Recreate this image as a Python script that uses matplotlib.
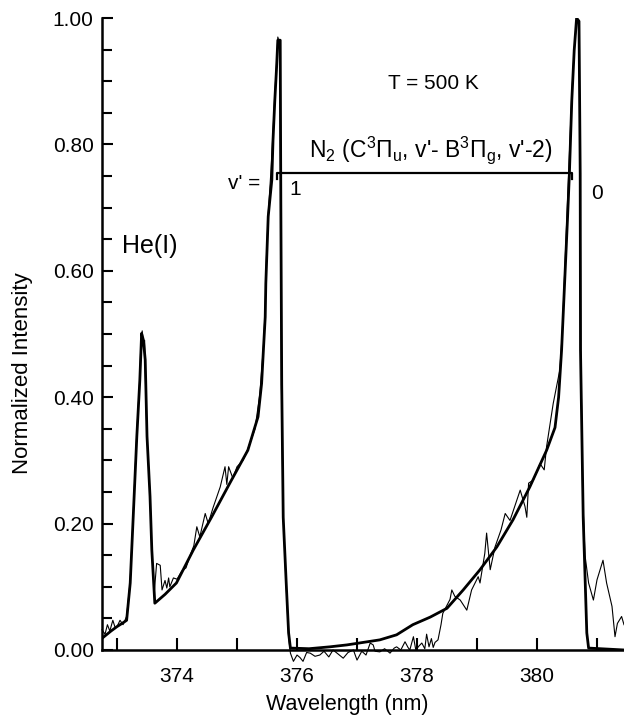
import numpy as np
import matplotlib
matplotlib.use('Agg')
import matplotlib.pyplot as plt
from matplotlib.ticker import MultipleLocator, FormatStrFormatter

plt.rcParams['font.family'] = ['Liberation Sans', 'DejaVu Sans']
plt.rcParams['mathtext.fontset'] = 'custom'
plt.rcParams['mathtext.rm'] = 'Liberation Sans'
plt.rcParams['mathtext.it'] = 'Liberation Sans:italic'

# simulated spectrum (thick line)
wl_fit = [372.77, 372.90, 373.00, 373.10, 373.16, 373.22, 373.27, 373.33, 373.38, 373.41,
          373.44, 373.47, 373.50, 373.55, 373.58, 373.63, 373.80, 373.99, 374.27, 374.58,
          374.88, 375.18, 375.35, 375.41, 375.44, 375.47, 375.48, 375.50, 375.52, 375.58,
          375.60, 375.63, 375.66, 375.68, 375.72, 375.73, 375.745, 375.77, 375.82, 375.86,
          375.89, 376.20, 376.55, 376.83, 377.38, 377.66, 377.93, 378.22, 378.50, 378.77,
          379.05, 379.33, 379.60, 379.88, 380.16, 380.30, 380.36, 380.41, 380.51, 380.54,
          380.58, 380.62, 380.66, 380.70, 380.72, 380.725, 380.77, 380.83, 380.86, 381.45]
int_fit = [0.020, 0.030, 0.037, 0.043, 0.047, 0.106, 0.211, 0.338, 0.427, 0.501,
           0.490, 0.459, 0.338, 0.243, 0.158, 0.074, 0.088, 0.106, 0.158, 0.211,
           0.264, 0.316, 0.369, 0.422, 0.475, 0.527, 0.580, 0.633, 0.686, 0.744,
           0.807, 0.870, 0.923, 0.965, 0.965, 0.712, 0.420, 0.210, 0.106, 0.027,
           0.003, 0.002, 0.005, 0.008, 0.016, 0.024, 0.040, 0.052, 0.066, 0.095,
           0.127, 0.163, 0.206, 0.258, 0.316, 0.352, 0.400, 0.475, 0.686, 0.754,
           0.870, 0.949, 1.000, 0.995, 0.754, 0.475, 0.210, 0.027, 0.003, 0.000]

# measured spectrum (thin line)
wl_exp = [372.75, 372.80, 372.84, 372.88, 372.93, 372.97, 373.00, 373.05, 373.10, 373.16,
          373.22, 373.27, 373.33, 373.38, 373.40, 373.42, 373.44, 373.46, 373.48, 373.50,
          373.55, 373.58, 373.62, 373.66, 373.72, 373.75, 373.80, 373.83, 373.86, 373.88,
          373.94, 374.00, 374.08, 374.15, 374.22, 374.28, 374.33, 374.38, 374.47, 374.52,
          374.60, 374.72, 374.80, 374.83, 374.86, 374.93, 375.00, 375.10, 375.18, 375.30,
          375.38, 375.44, 375.47, 375.49, 375.52, 375.56, 375.60, 375.63, 375.66, 375.68,
          375.71, 375.73, 375.74, 375.77, 375.82, 375.86, 375.89, 375.94, 376.00, 376.05,
          376.10, 376.16, 376.22, 376.30, 376.38, 376.45, 376.53, 376.60, 376.68, 376.77,
          376.85, 376.94, 377.00, 377.08, 377.15, 377.22, 377.27, 377.30, 377.38, 377.46,
          377.55, 377.62, 377.66, 377.73, 377.80, 377.85, 377.88, 377.94, 377.98, 378.03,
          378.08, 378.13, 378.16, 378.20, 378.24, 378.27, 378.30, 378.35, 378.40, 378.43,
          378.50, 378.55, 378.58, 378.63, 378.72, 378.83, 378.91, 379.02, 379.05, 379.13,
          379.16, 379.22, 379.30, 379.40, 379.47, 379.55, 379.72, 379.80, 379.83, 379.86,
          379.94, 380.05, 380.12, 380.16, 380.27, 380.38, 380.42, 380.47, 380.53, 380.58,
          380.62, 380.66, 380.70, 380.72, 380.73, 380.76, 380.80, 380.86, 380.94, 381.00,
          381.10, 381.16, 381.25, 381.30, 381.34, 381.41, 381.45]
int_exp = [0.032, 0.025, 0.040, 0.030, 0.047, 0.035, 0.037, 0.047, 0.040, 0.053,
           0.110, 0.215, 0.345, 0.430, 0.495, 0.505, 0.480, 0.490, 0.400, 0.338,
           0.243, 0.158, 0.090, 0.137, 0.134, 0.095, 0.110, 0.098, 0.114, 0.100,
           0.114, 0.112, 0.125, 0.130, 0.150, 0.165, 0.195, 0.179, 0.216, 0.200,
           0.225, 0.258, 0.290, 0.262, 0.290, 0.272, 0.290, 0.300, 0.318, 0.350,
           0.405, 0.480, 0.540, 0.620, 0.690, 0.750, 0.820, 0.880, 0.930, 0.970,
           0.960, 0.700, 0.420, 0.210, 0.100, 0.020, -0.005, -0.018, -0.008, -0.012,
           -0.018, -0.004, -0.005, -0.010, -0.008, -0.002, -0.011, 0.000, -0.006, -0.013,
           -0.004, 0.000, -0.016, -0.002, -0.008, 0.011, 0.008, -0.002, -0.003, 0.002,
           -0.005, 0.003, 0.005, 0.000, 0.013, 0.004, 0.000, 0.021, 0.000, 0.006,
           0.011, 0.002, 0.025, 0.005, 0.018, 0.004, 0.012, 0.016, 0.040, 0.058,
           0.071, 0.080, 0.095, 0.085, 0.079, 0.063, 0.095, 0.116, 0.106, 0.153,
           0.185, 0.127, 0.163, 0.190, 0.216, 0.205, 0.253, 0.227, 0.210, 0.264,
           0.269, 0.295, 0.285, 0.322, 0.390, 0.443, 0.500, 0.620, 0.760, 0.880,
           0.950, 0.995, 0.990, 0.760, 0.480, 0.250, 0.150, 0.106, 0.079, 0.111,
           0.142, 0.106, 0.069, 0.021, 0.042, 0.053, 0.040]

xticks = [373, 374, 375, 376, 377, 378, 379, 380, 381]
xtick_labels = ['', '374', '', '376', '', '378', '', '380', '']

fig = plt.figure(figsize=(6.24, 7.23), dpi=100)
ax = fig.add_axes([0.1635, 0.101, 0.8365, 0.874])

ax.plot(wl_exp, int_exp, 'k-', lw=0.8, clip_on=False)
ax.plot(wl_fit, int_fit, 'k-', lw=2.0)

ax.set_xlim(372.75, 381.45)
ax.set_ylim(0, 1.0)

ax.set_xticks(xticks)
ax.set_xticklabels(xtick_labels)
ax.yaxis.set_major_locator(MultipleLocator(0.2))
ax.yaxis.set_minor_locator(MultipleLocator(0.05))
ax.yaxis.set_major_formatter(FormatStrFormatter('%.2f'))
ax.tick_params(axis='x', direction='in', length=9, width=1.5, labelsize=15, pad=12)
ax.tick_params(axis='y', which='major', direction='in', length=8, width=1.5, labelsize=15, pad=6)
ax.tick_params(axis='y', which='minor', direction='in', length=7, width=1.5)

for s in ['top', 'right']:
    ax.spines[s].set_visible(False)
for s in ['left', 'bottom']:
    ax.spines[s].set_linewidth(1.8)

ax.set_xlabel('Wavelength (nm)', fontsize=15.5)
ax.xaxis.set_label_coords(0.469, -0.07)
ax.set_ylabel('Normalized Intensity', fontsize=16)
ax.yaxis.set_label_coords(-0.132, 0.438)

# band labels
br_x0, br_x1, br_y = 375.67, 380.58, 0.755
ax.plot([br_x0, br_x0, br_x1, br_x1], [br_y - 0.01, br_y, br_y, br_y - 0.01], 'k-', lw=1.6)
ax.text(378.28, 0.897, 'T = 500 K', fontsize=15, ha='center', va='center')
ax.text(378.23, 0.791,
        r"N$_\mathrm{2}$ (C$^\mathrm{3}\mathrm{\Pi}_\mathrm{u}$, v'- B$^\mathrm{3}\mathrm{\Pi}_\mathrm{g}$, v'-2)",
        fontsize=16.5, ha='center', va='center')
ax.text(375.38, 0.739, "v' =", fontsize=15, ha='right', va='center')
ax.text(375.97, 0.728, '1', fontsize=15, ha='center', va='center')
ax.text(381.0, 0.723, '0', fontsize=15, ha='center', va='center')
ax.text(373.08, 0.64, 'He(I)', fontsize=18, ha='left', va='center')

plt.savefig('out.png', dpi=100)
